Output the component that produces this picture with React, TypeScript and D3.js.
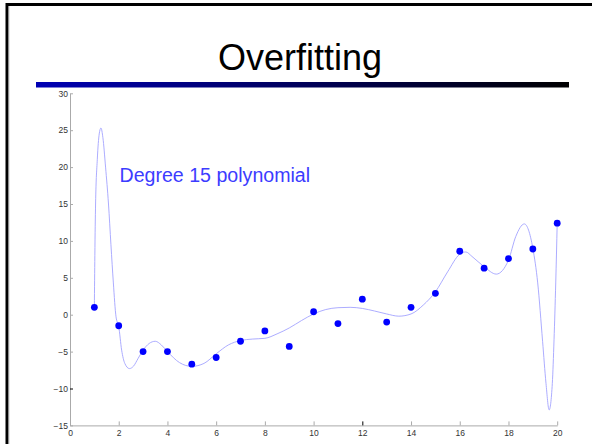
import React, { useEffect, useRef } from 'react';
import * as d3 from 'd3';

// observed points
const pointX = [1, 2, 3, 4, 5, 6, 7, 8, 9, 10, 11, 12, 13, 14, 15, 16, 17, 18, 19, 20];
const pointY = [1.0, -1.5, -5.0, -5.0, -6.7, -5.8, -3.6, -2.2, -4.3, 0.4, -1.2, 2.1, -1.0, 1.0, 2.9, 8.6, 6.3, 7.6, 8.9, 12.4];

// fitted degree 15 curve
const curveX = [1.0, 1.02, 1.05, 1.12, 1.2, 1.27, 1.35, 1.46, 1.58, 1.68, 1.78, 1.89, 2.0, 2.12, 2.25, 2.44, 2.6, 2.8, 3.0, 3.25, 3.5, 3.75, 4.0, 4.5, 5.0, 5.5, 6.0, 6.5, 7.0, 7.5, 8.0, 8.5, 9.0, 9.5, 10.0, 10.5, 11.0, 11.5, 12.0, 12.5, 13.0, 13.5, 14.0, 14.5, 15.0, 15.5, 16.0, 16.25, 16.5, 17.0, 17.5, 18.0, 18.3, 18.65, 19.0, 19.2, 19.4, 19.54, 19.67, 19.8, 19.87, 19.94, 20.0];
const curveY = [1.0, 8.0, 15.0, 21.0, 24.5, 25.3, 24.0, 20.0, 15.0, 9.5, 4.3, -0.3, -1.6, -4.8, -6.6, -7.3, -7.0, -5.9, -4.8, -3.9, -3.6, -4.1, -5.0, -6.5, -7.0, -6.6, -5.3, -4.1, -3.5, -3.3, -3.2, -2.6, -1.8, -0.8, 0.1, 0.7, 0.95, 1.0, 0.85, 0.5, 0.1, -0.2, 0.1, 1.3, 3.1, 5.8, 8.2, 8.5, 7.9, 6.5, 5.5, 7.4, 10.6, 12.3, 9.0, 4.3, -3.6, -9.3, -12.9, -9.3, -3.4, 4.3, 12.4];

const xTicks = [0, 2, 4, 6, 8, 10, 12, 14, 16, 18, 20];
const yTicks = [-15, -10, -5, 0, 5, 10, 15, 20, 25, 30];

const title = 'Overfitting';
const note = 'Degree 15 polynomial';

const App = () => {
  const ref = useRef<SVGSVGElement | null>(null);

  useEffect(() => {
    const W = 592;
    const H = 444;
    const svg = d3.select(ref.current);
    svg.selectAll('*').remove();

    const font = 'Arial, "Liberation Sans", sans-serif';

    const defs = svg.append('defs');
    const grad = defs.append('linearGradient').attr('id', 'bar').attr('x1', '0').attr('x2', '1');
    grad.append('stop').attr('offset', '0').attr('stop-color', '#0000b4');
    grad.append('stop').attr('offset', '1').attr('stop-color', '#000000');

    svg.append('rect').attr('width', W).attr('height', H).attr('fill', '#fff');

    // slide frame (only left and top edges are visible)
    svg.append('path')
      .attr('d', `M7,${H} V4.5 H${W}`)
      .attr('fill', 'none')
      .attr('stroke', '#000')
      .attr('stroke-width', 3);
    svg.append('line')
      .attr('x1', 8.8).attr('x2', 8.8).attr('y1', 6).attr('y2', H)
      .attr('stroke', '#999').attr('stroke-width', 0.8);

    svg.append('text')
      .attr('x', 300)
      .attr('y', 69.5)
      .attr('text-anchor', 'middle')
      .attr('font-family', font)
      .attr('font-size', 36)
      .attr('fill', '#000')
      .text(title);

    svg.append('rect')
      .attr('x', 36).attr('y', 82).attr('width', 533).attr('height', 5.5)
      .attr('fill', 'url(#bar)');

    const x = d3.scaleLinear().domain([0, 20]).range([70, 557.2]);
    const y = d3.scaleLinear().domain([-15, 30]).range([425.4, 93.3]);

    const xAxis = svg.append('g')
      .attr('transform', `translate(0,${y(-15)})`)
      .call(d3.axisBottom(x).tickValues(xTicks).tickSize(-4).tickSizeOuter(0).tickPadding(5));
    const yAxis = svg.append('g')
      .attr('transform', `translate(${x(0)},0)`)
      .call(d3.axisLeft(y).tickValues(yTicks).tickSize(-3).tickSizeOuter(0).tickPadding(2));

    [xAxis, yAxis].forEach((g) => {
      g.select('.domain').attr('stroke', '#aaa').attr('stroke-width', 1);
      g.selectAll('.tick line').attr('stroke', '#aaa');
      g.selectAll('.tick text')
        .attr('fill', '#333')
        .attr('font-family', font)
        .attr('font-size', 8.5);
    });
    // two ticks show up black in the original
    xAxis.selectAll('.tick').filter((d: any) => d === 12).select('line').attr('stroke', '#000');
    yAxis.selectAll('.tick').filter((d: any) => d === -10).select('line').attr('stroke', '#000');

    const line = d3.line<number>()
      .x((_, i) => x(curveX[i]))
      .y((d) => y(d))
      .curve(d3.curveMonotoneX);

    svg.append('path')
      .datum(curveY)
      .attr('d', line)
      .attr('fill', 'none')
      .attr('stroke', '#a3a3ff')
      .attr('stroke-width', 0.9);

    svg.append('g')
      .selectAll('circle')
      .data(pointY)
      .enter()
      .append('circle')
      .attr('cx', (_, i) => x(pointX[i]))
      .attr('cy', (d) => y(d))
      .attr('r', 3.4)
      .attr('fill', '#0000ff');

    svg.append('text')
      .attr('x', 119.5)
      .attr('y', 181.7)
      .attr('font-family', font)
      .attr('font-size', 19.6)
      .attr('fill', '#3c3cff')
      .text(note);
  }, []);

  return (
    <svg
      ref={ref}
      width={592}
      height={444}
      style={{ position: 'absolute', left: 0, top: 0, display: 'block' }}
    />
  );
};

export default App;
